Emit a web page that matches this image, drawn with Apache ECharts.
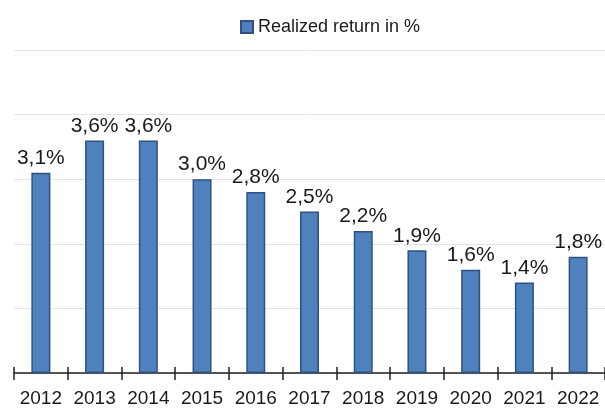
<!DOCTYPE html>
<html>
<head>
<meta charset="utf-8">
<script src="https://cdn.jsdelivr.net/npm/echarts@6/dist/echarts.min.js"></script>
<style>
  html, body { margin: 0; padding: 0; background: #fff; }
  #chart { width: 605px; height: 409px; }
</style>
</head>
<body>
<div id="chart"></div>
<script>
  // data
  var years = ["2012", "2013", "2014", "2015", "2016", "2017", "2018", "2019", "2020", "2021", "2022"];
  var realizedReturn = [3.1, 3.6, 3.6, 3.0, 2.8, 2.5, 2.2, 1.9, 1.6, 1.4, 1.8];
  var seriesName = "Realized return in %";

  var chart = echarts.init(document.getElementById("chart"));

  var option = {
    animation: false,
    textStyle: { fontFamily: "Liberation Sans, Arial, sans-serif" },
    legend: {
      left: 235,
      top: 13,
      itemWidth: 12,
      itemHeight: 12,
      icon: "rect",
      textStyle: { fontSize: 18, color: "#1a1a1a" },
      data: [seriesName]
    },
    grid: {
      left: 14,
      right: -7, // last category is cut off in the original
      top: 50,
      bottom: 36
    },
    xAxis: [
      {
        type: "category",
        data: years,
        axisLine: { lineStyle: { color: "#222", width: 1.5 } },
        axisTick: { show: true, interval: 0, length: 7, lineStyle: { color: "#222", width: 1.5 } },
        axisLabel: { interval: 0, fontSize: 19, color: "#1a1a1a", margin: 16 }
      },
      {
        // inner half of the crossing ticks
        type: "category",
        data: years,
        position: "bottom",
        axisLine: { show: false },
        axisTick: { show: true, interval: 0, inside: true, length: 6, lineStyle: { color: "#222", width: 1.5 } },
        axisLabel: { show: false }
      }
    ],
    yAxis: {
      type: "value",
      min: 0,
      max: 5,
      interval: 1,
      axisLine: { show: false },
      axisTick: { show: false },
      axisLabel: { show: false },
      splitLine: { lineStyle: { color: "#e3e3e3", width: 1 } }
    },
    series: [
      {
        name: seriesName,
        type: "bar",
        barWidth: 19,
        data: realizedReturn,
        itemStyle: {
          color: "#4f81bd",
          borderColor: "#2f5283",
          borderWidth: 1.5
        },
        label: {
          show: true,
          position: "top",
          distance: 4,
          fontSize: 21,
          color: "#1a1a1a",
          formatter: function (p) {
            return p.value.toFixed(1).replace(".", ",") + "%";
          }
        }
      }
    ]
  };

  chart.setOption(option);
</script>
</body>
</html>
